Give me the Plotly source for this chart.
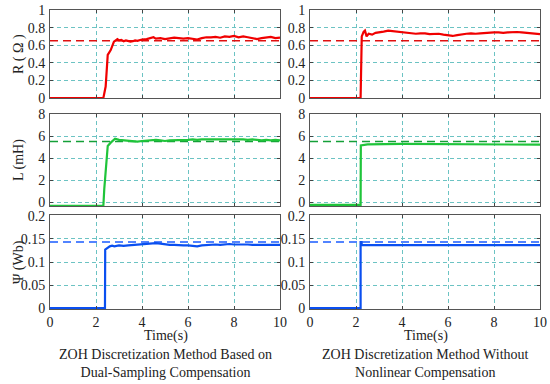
import plotly.graph_objects as go

# ---------------- data ----------------
x_ticks = [0, 2, 4, 6, 8, 10]

# Left column: ZOH with dual-sampling compensation
t_R_left = [0, 2.32, 2.42, 2.51, 2.64, 2.78, 2.93, 3.0, 3.1, 3.2, 3.3, 3.4, 3.5, 3.6, 3.7, 3.8, 3.9,
            4.0, 4.2, 4.4, 4.5, 4.6, 4.8, 5.0, 5.2, 5.4, 5.6, 5.8, 6.0, 6.2, 6.4, 6.6, 6.8,
            7.0, 7.2, 7.4, 7.6, 7.8, 8.0, 8.2, 8.4, 8.6, 8.8, 9.0, 9.2, 9.4, 9.6, 9.8, 10.0]
R_left = [0, 0, 0.13, 0.49, 0.545, 0.64, 0.67, 0.655, 0.66, 0.645, 0.655, 0.65, 0.64, 0.645, 0.655, 0.65, 0.66,
          0.665, 0.67, 0.68, 0.69, 0.675, 0.68, 0.67, 0.675, 0.685, 0.68, 0.675, 0.68, 0.67, 0.665, 0.68, 0.69,
          0.69, 0.695, 0.685, 0.7, 0.695, 0.705, 0.69, 0.7, 0.69, 0.68, 0.67, 0.68, 0.685, 0.695, 0.68, 0.685]

t_L_left = [0, 2.32, 2.36, 2.45, 2.51, 2.64, 2.83, 3.0, 3.2, 3.4, 3.6, 3.8, 4.0, 4.2, 4.4, 4.6, 4.8,
            5.0, 5.2, 5.4, 5.6, 5.8, 6.0, 6.2, 6.4, 6.6, 6.8, 7.0, 7.2, 7.4, 7.6, 7.8,
            8.0, 8.2, 8.4, 8.6, 8.8, 9.0, 9.2, 9.4, 9.6, 9.8, 10.0]
L_left = [-0.33, -0.33, 1.2, 3.5, 5.1, 5.4, 5.75, 5.65, 5.6, 5.55, 5.5, 5.5, 5.55, 5.6, 5.6, 5.65, 5.6,
          5.55, 5.6, 5.6, 5.65, 5.6, 5.65, 5.7, 5.65, 5.7, 5.7, 5.75, 5.7, 5.7, 5.75, 5.7,
          5.7, 5.75, 5.7, 5.65, 5.7, 5.65, 5.6, 5.65, 5.6, 5.65, 5.6]

t_P_left = [0, 2.39, 2.40, 2.5, 2.6, 2.7, 2.8, 3.0, 3.2, 3.4, 3.6, 3.8, 4.0, 4.2, 4.4, 4.6, 4.8,
            5.0, 5.2, 5.4, 5.6, 5.8, 6.0, 6.2, 6.4, 6.6, 6.8, 7.0, 7.2, 7.4, 7.6, 7.8,
            8.0, 8.2, 8.4, 8.6, 8.8, 9.0, 9.2, 9.4, 9.6, 9.8, 10.0]
P_left = [0, 0, 0.127, 0.131, 0.134, 0.1355, 0.134, 0.136, 0.135, 0.136, 0.137, 0.137, 0.138, 0.139, 0.14, 0.141, 0.14,
          0.138, 0.137, 0.137, 0.136, 0.136, 0.136, 0.135, 0.134, 0.136, 0.137, 0.138, 0.138, 0.137, 0.138, 0.139,
          0.138, 0.138, 0.139, 0.138, 0.137, 0.137, 0.138, 0.137, 0.137, 0.138, 0.137]

# Right column: ZOH without nonlinear compensation
t_R_right = [0, 2.2, 2.25, 2.33, 2.39, 2.46, 2.55, 2.7, 2.85, 3.0, 3.2, 3.4, 3.6, 3.8, 4.0, 4.2, 4.4, 4.6, 4.8,
             5.0, 5.2, 5.4, 5.6, 5.8, 6.0, 6.2, 6.4, 6.6, 6.8, 7.0, 7.2, 7.4, 7.6, 7.8,
             8.0, 8.2, 8.4, 8.6, 8.8, 9.0, 9.2, 9.4, 9.6, 9.8, 10.0]
R_right = [0, 0, 0.70, 0.75, 0.765, 0.70, 0.73, 0.72, 0.74, 0.75, 0.755, 0.765, 0.76, 0.75, 0.745, 0.74, 0.735, 0.73, 0.735,
           0.735, 0.725, 0.725, 0.73, 0.72, 0.71, 0.705, 0.715, 0.725, 0.73, 0.735, 0.73, 0.735, 0.74, 0.74,
           0.745, 0.745, 0.74, 0.745, 0.75, 0.75, 0.745, 0.74, 0.735, 0.73, 0.725]

t_L_right = [0, 2.2, 2.21, 2.5, 4.0, 6.0, 8.0, 10.0]
L_right = [-0.25, -0.25, 5.15, 5.25, 5.28, 5.25, 5.26, 5.22]

t_P_right = [0, 2.2, 2.2, 2.24, 2.25, 4.0, 6.0, 8.0, 10.0]
P_right = [0, 0, 0.143, 0.143, 0.137, 0.1365, 0.1365, 0.1365, 0.1365]

R_ref = 0.65
L_ref = 5.5
P_ref = 0.1435

y_ranges = [[0, 1], [-0.35, 8], [-0.002, 0.202]]
y_ticks = [[0, 0.2, 0.4, 0.6, 0.8, 1], [0, 2, 4, 6, 8], [0, 0.05, 0.1, 0.15, 0.2]]
y_titles = ["R ( Ω )", "L (mH)", "Ψ (Wb)"]
captions = ["ZOH Discretization Method Based on<br>Dual-Sampling Compensation",
            "ZOH Discretization Method Without<br>Nonlinear Compensation"]

# ---------------- styles ----------------
W, H = 550, 384
FONT = "Liberation Serif, Times New Roman, DejaVu Serif, serif"
TXT = "#222"
col_px = [(50, 280), (310, 540)]
row_px = [(10, 98), (114, 206), (215, 309)]
line_colors = ["#f00000", "#1fc43a", "#0a4ff0"]
ref_colors = ["#e01010", "#14a038", "#1a5cff"]
grid_color = "#6cc3c3"

series = [
    [(t_R_left, R_left), (t_L_left, L_left), (t_P_left, P_left)],
    [(t_R_right, R_right), (t_L_right, L_right), (t_P_right, P_right)],
]
refs = [R_ref, L_ref, P_ref]

fig = go.Figure()
layout = dict(width=W, height=H, autosize=False,
              margin=dict(l=0, r=0, t=0, b=0, pad=0, autoexpand=False),
              paper_bgcolor="white", plot_bgcolor="white", showlegend=False,
              font=dict(family=FONT, size=14, color=TXT))

idx = 0
annotations = []
for c in range(2):
    for r in range(3):
        idx += 1
        xa = "x" if idx == 1 else f"x{idx}"
        ya = "y" if idx == 1 else f"y{idx}"
        xkey = "xaxis" if idx == 1 else f"xaxis{idx}"
        ykey = "yaxis" if idx == 1 else f"yaxis{idx}"
        x0, x1 = col_px[c]
        y0, y1 = row_px[r]
        common = dict(ticks="inside", ticklen=3, tickcolor="#444",
                      showline=True, linecolor="#555", linewidth=1, mirror="ticks",
                      showgrid=True, gridcolor=grid_color, griddash="4px,3px", gridwidth=1,
                      zeroline=False, automargin=False,
                      tickfont=dict(size=14, family=FONT, color=TXT))
        layout[xkey] = dict(domain=[x0 / W, x1 / W], range=[0, 10], anchor=ya,
                            tickvals=x_ticks, showticklabels=(r == 2), **common)
        layout[ykey] = dict(domain=[1 - y1 / H, 1 - y0 / H], range=y_ranges[r], anchor=xa,
                            tickvals=y_ticks[r], ticklabelstandoff=1, **common)
        tx, vy = series[c][r]
        fig.add_trace(go.Scatter(x=[0, 10], y=[refs[r], refs[r]], mode="lines", xaxis=xa, yaxis=ya,
                                 line=dict(color=ref_colors[r], width=1.5, dash="8px,5px")))
        fig.add_trace(go.Scatter(x=tx, y=vy, mode="lines", xaxis=xa, yaxis=ya,
                                 line=dict(color=line_colors[r], width=2.2)))

# y-axis titles (left column)
for r in range(3):
    y0, y1 = row_px[r]
    annotations.append(dict(text=y_titles[r], x=19 / W, y=1 - ((y0 + y1) / 2) / H,
                            xref="paper", yref="paper", showarrow=False, textangle=-90,
                            font=dict(size=14, family=FONT, color=TXT),
                            xanchor="center", yanchor="middle"))
# x-axis titles and captions
for c in range(2):
    x0, x1 = col_px[c]
    xc = (x0 + x1) / 2
    annotations.append(dict(text="Time(s)", x=(xc + 1) / W, y=1 - 336 / H, xref="paper", yref="paper",
                            showarrow=False, font=dict(size=14, family=FONT, color=TXT),
                            xanchor="center", yanchor="middle"))
    annotations.append(dict(text=captions[c], x=xc / W, y=1 - 363 / H, xref="paper", yref="paper",
                            showarrow=False, font=dict(size=14, family=FONT, color=TXT),
                            xanchor="center", yanchor="middle", align="center"))

layout["annotations"] = annotations
fig.update_layout(**layout)
fig.write_html("out.html", config={"displayModeBar": False},
               post_script="document.body.style.margin='0';document.body.style.padding='0';")
